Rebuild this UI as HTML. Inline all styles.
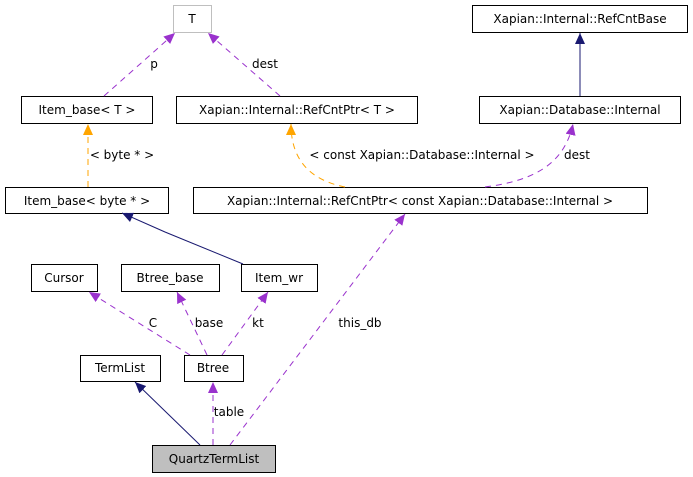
<!DOCTYPE html>
<html><head><style>body{margin:0;background:#fff}svg{display:block}text{font-family:"DejaVu Sans",sans-serif;font-size:12px;fill:#000}</style></head><body>
<svg width="693" height="477" xmlns="http://www.w3.org/2000/svg">
<defs>
<marker id="pu" markerWidth="12" markerHeight="12" refX="11" refY="5" orient="auto" markerUnits="userSpaceOnUse"><path d="M0,0 L11,5 L0,10z" fill="#9a32cd"/></marker>
<marker id="or" markerWidth="12" markerHeight="12" refX="11" refY="5" orient="auto" markerUnits="userSpaceOnUse"><path d="M0,0 L11,5 L0,10z" fill="#ffa500"/></marker>
<marker id="nv" markerWidth="12" markerHeight="12" refX="11" refY="5" orient="auto" markerUnits="userSpaceOnUse"><path d="M0,0 L11,5 L0,10z" fill="#191970"/></marker>
</defs>
<g fill="#fff" stroke="#000" stroke-width="1">
<rect x="173.5" y="5.5" width="38" height="27" stroke="#bfbfbf"/>
<rect x="21.5" y="96.5" width="131" height="27"/>
<rect x="176.5" y="96.5" width="241" height="27"/>
<rect x="472.5" y="5.5" width="215" height="27"/>
<rect x="479.5" y="96.5" width="201" height="27"/>
<rect x="5.5" y="187.5" width="163" height="26"/>
<rect x="193.5" y="187.5" width="454" height="26"/>
<rect x="31.5" y="264.5" width="66" height="27"/>
<rect x="121.5" y="264.5" width="98" height="27"/>
<rect x="241.5" y="264.5" width="76" height="27"/>
<rect x="80.5" y="355.5" width="80" height="26"/>
<rect x="184.5" y="355.5" width="59" height="26"/>
<rect x="152.5" y="445.5" width="123" height="27" fill="#bfbfbf"/>
</g>
<g fill="none" stroke-width="1">
<path d="M104,96 L175,33" stroke="#9a32cd" stroke-dasharray="6,5" marker-end="url(#pu)"/>
<path d="M280,96 L208,33" stroke="#9a32cd" stroke-dasharray="6,5" marker-end="url(#pu)"/>
<path d="M580,96 L580,33" stroke="#191970" marker-end="url(#nv)"/>
<path d="M88,187 L88,124" stroke="#ffa500" stroke-dasharray="6,5" marker-end="url(#or)"/>
<path d="M345,187 C310,180 291,160 291,124" stroke="#ffa500" stroke-dasharray="6,5" marker-end="url(#or)"/>
<path d="M485,187 C540,180 565,160 573,124" stroke="#9a32cd" stroke-dasharray="6,5" marker-end="url(#pu)"/>
<path d="M243,264 L165,232 L122,213" stroke="#191970" marker-end="url(#nv)"/>
<path d="M190,355 L89,292" stroke="#9a32cd" stroke-dasharray="6,5" marker-end="url(#pu)"/>
<path d="M207,355 L177,292" stroke="#9a32cd" stroke-dasharray="6,5" marker-end="url(#pu)"/>
<path d="M222,355 L268,292" stroke="#9a32cd" stroke-dasharray="6,5" marker-end="url(#pu)"/>
<path d="M200,445 L135,382" stroke="#191970" marker-end="url(#nv)"/>
<path d="M213,445 L213,382" stroke="#9a32cd" stroke-dasharray="6,5" marker-end="url(#pu)"/>
<path d="M230,445 L405,214" stroke="#9a32cd" stroke-dasharray="6,5" marker-end="url(#pu)"/>
</g>
<g text-anchor="middle">
<text x="192" y="23">T</text>
<text x="87" y="114">Item_base&lt; T &gt;</text>
<text x="297" y="114">Xapian::Internal::RefCntPtr&lt; T &gt;</text>
<text x="580" y="23">Xapian::Internal::RefCntBase</text>
<text x="580" y="114">Xapian::Database::Internal</text>
<text x="87" y="205">Item_base&lt; byte * &gt;</text>
<text x="420" y="205">Xapian::Internal::RefCntPtr&lt; const Xapian::Database::Internal &gt;</text>
<text x="64" y="282">Cursor</text>
<text x="170" y="282">Btree_base</text>
<text x="279" y="282">Item_wr</text>
<text x="120" y="372">TermList</text>
<text x="213" y="372">Btree</text>
<text x="214" y="463">QuartzTermList</text>
<text x="154" y="68">p</text>
<text x="265" y="68">dest</text>
<text x="122" y="159">&lt; byte * &gt;</text>
<text x="422" y="159">&lt; const Xapian::Database::Internal &gt;</text>
<text x="577" y="159">dest</text>
<text x="153" y="327">C</text>
<text x="209" y="327">base</text>
<text x="258" y="327">kt</text>
<text x="360" y="327">this_db</text>
<text x="229" y="416">table</text>
</g>
</svg>
</body></html>
